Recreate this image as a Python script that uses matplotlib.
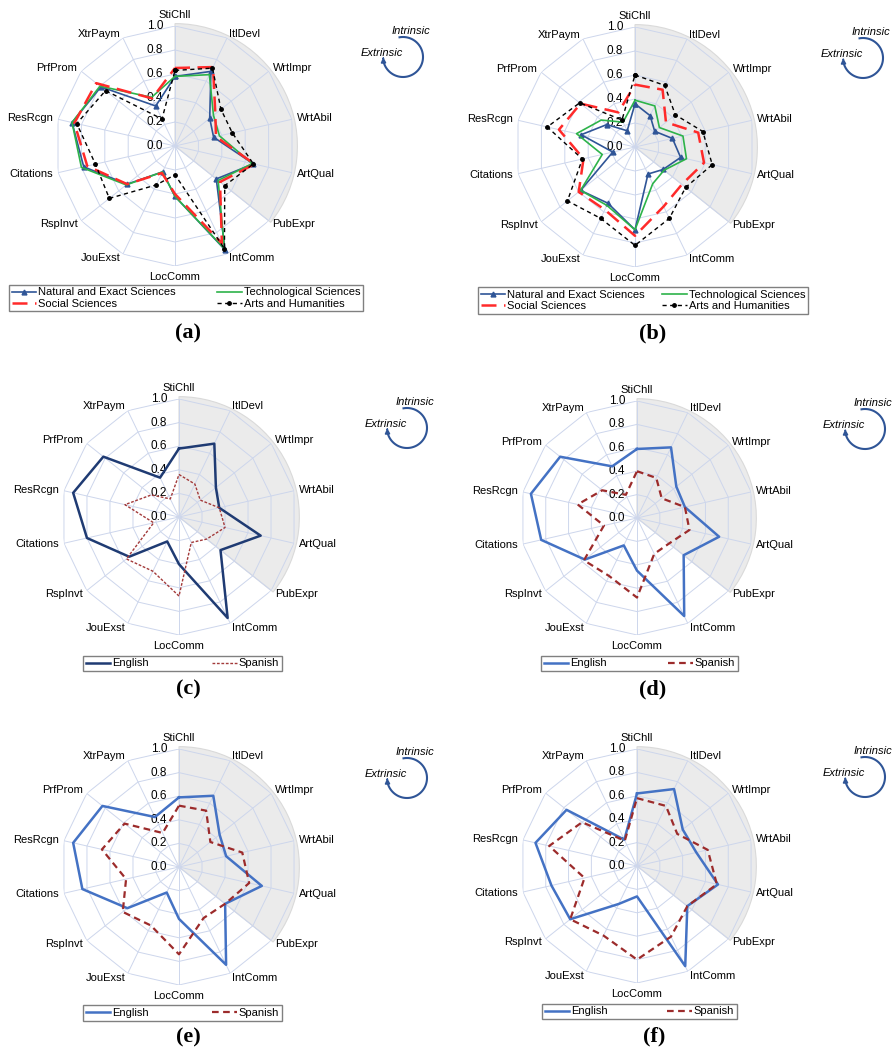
import numpy as np
import matplotlib
matplotlib.use("Agg")
import matplotlib.pyplot as plt

plt.rcParams['font.family'] = ['Liberation Sans', 'DejaVu Sans']

W, H = 893, 1048

AXES = ["StiChll", "ItlDevl", "WrtImpr", "WrtAbil", "ArtQual", "PubExpr", "IntComm",
        "LocComm", "JouExst", "RspInvt", "Citations", "ResRcgn", "PrfProm", "XtrPaym"]
RTICKS = [0.0, 0.2, 0.4, 0.6, 0.8, 1.0]
N_SHADED = 5  # StiChll .. PubExpr = intrinsic sector

FIELDS = ["Natural and Exact Sciences", "Technological Sciences",
          "Social Sciences", "Arts and Humanities"]
LANGS = ["English", "Spanish"]

# panel (a)
A_NAT = [0.58, 0.69, 0.37, 0.33, 0.67, 0.44, 0.96, 0.42, 0.24, 0.51, 0.78, 0.88, 0.79, 0.37]
A_TECH = [0.58, 0.66, 0.41, 0.38, 0.66, 0.46, 0.95, 0.42, 0.24, 0.52, 0.80, 0.88, 0.80, 0.45]
A_SOC = [0.65, 0.73, 0.43, 0.35, 0.68, 0.48, 0.90, 0.40, 0.25, 0.51, 0.75, 0.86, 0.84, 0.44]
A_ARTS = [0.63, 0.72, 0.49, 0.49, 0.67, 0.53, 0.95, 0.24, 0.36, 0.70, 0.68, 0.84, 0.74, 0.25]
# panel (b)
B_NAT = [0.36, 0.29, 0.21, 0.32, 0.39, 0.30, 0.25, 0.69, 0.52, 0.58, 0.19, 0.46, 0.30, 0.15]
B_TECH = [0.39, 0.38, 0.26, 0.41, 0.44, 0.31, 0.34, 0.69, 0.54, 0.58, 0.28, 0.50, 0.36, 0.23]
B_SOC = [0.52, 0.53, 0.33, 0.54, 0.59, 0.50, 0.55, 0.74, 0.58, 0.60, 0.44, 0.65, 0.58, 0.32]
B_ARTS = [0.60, 0.57, 0.43, 0.58, 0.66, 0.54, 0.66, 0.82, 0.66, 0.72, 0.45, 0.75, 0.59, 0.25]
# panels (c)-(f): English vs Spanish
C_EN = [0.58, 0.69, 0.40, 0.35, 0.71, 0.45, 0.95, 0.40, 0.23, 0.54, 0.80, 0.92, 0.82, 0.37]
C_ES = [0.36, 0.31, 0.23, 0.35, 0.40, 0.30, 0.24, 0.67, 0.51, 0.57, 0.22, 0.47, 0.30, 0.17]
D_EN = [0.59, 0.67, 0.43, 0.42, 0.72, 0.51, 0.93, 0.45, 0.26, 0.57, 0.84, 0.93, 0.84, 0.49]
D_ES = [0.40, 0.38, 0.27, 0.42, 0.46, 0.35, 0.34, 0.68, 0.55, 0.58, 0.29, 0.52, 0.38, 0.22]
E_EN = [0.59, 0.67, 0.44, 0.41, 0.72, 0.50, 0.92, 0.44, 0.24, 0.56, 0.84, 0.92, 0.83, 0.47]
E_ES = [0.52, 0.53, 0.34, 0.55, 0.61, 0.50, 0.48, 0.74, 0.55, 0.61, 0.46, 0.67, 0.59, 0.32]
F_EN = [0.62, 0.73, 0.50, 0.52, 0.71, 0.55, 0.95, 0.26, 0.36, 0.73, 0.75, 0.89, 0.77, 0.25]
F_ES = [0.58, 0.57, 0.44, 0.62, 0.70, 0.55, 0.67, 0.80, 0.66, 0.73, 0.46, 0.77, 0.60, 0.24]

GRID = "#cdd6ec"
ST_FIELDS = [
    dict(color="#2f5597", lw=1.2, marker="^", ms=3.5),
    dict(color="#2db34a", lw=1.2),
    dict(color="#ff2a2a", lw=1.8, dashes=(6, 3)),
    dict(color="black", lw=1.0, dashes=(3, 2.5), marker="o", ms=2.5),
]
ST_C = [dict(color="#1f3b73", lw=1.8), dict(color="#a33a3a", lw=1.0, dashes=(2, 1.2))]
ST_LANG = [dict(color="#4472c4", lw=1.8), dict(color="#9c2b2b", lw=1.6, dashes=(3, 2))]

fig = plt.figure(figsize=(W / 100, H / 100), dpi=100)
ov = fig.add_axes([0, 0, 1, 1])
ov.set_xlim(0, W); ov.set_ylim(H, 0); ov.axis("off")

theta = np.arange(len(AXES)) * 2 * np.pi / len(AXES)
closed = np.append(theta, theta[0])


def radar(cx, cy, R, series, names, styles, leg_box, order, tag):
    ax = fig.add_axes([(cx - R) / W, 1 - (cy + R) / H, 2 * R / W, 2 * R / H],
                      projection="polar")
    ax.set_theta_zero_location("N")
    ax.set_theta_direction(-1)
    ax.set_ylim(0, 1)
    ax.axis("off")
    # intrinsic sector
    ax.bar(theta[N_SHADED] / 2, 1.02, width=theta[N_SHADED], bottom=0,
           color="#ebebeb", edgecolor="#dadada", lw=0.8, zorder=0, clip_on=False)
    for r in RTICKS[1:]:
        ax.plot(closed, [r] * len(closed), color=GRID, lw=0.7, zorder=1)
    for t in theta:
        ax.plot([t, t], [0, 1], color=GRID, lw=0.7, zorder=1)
    for v in RTICKS:
        ax.annotate(f"{v:.1f}", xy=(0, v), xytext=(-8.5, 0), textcoords="offset points",
                    ha="right", va="center", fontsize=8.5, annotation_clip=False)
    for t, name in zip(theta, AXES):
        s, c = np.sin(t), np.cos(t)
        if abs(s) < 0.1:
            ax.annotate(name, xy=(t, 1), xytext=(0, 4.5 * np.sign(c)),
                        textcoords="offset points", ha="center",
                        va="bottom" if c > 0 else "top", fontsize=8, annotation_clip=False)
        else:
            ax.annotate(name, xy=(t, 1), xytext=(3.5 * s, 3.5 * c),
                        textcoords="offset points", ha="left" if s > 0 else "right",
                        va="center", fontsize=8, annotation_clip=False)
    handles = []
    for vals, st in zip(series, styles):
        h, = ax.plot(closed, np.append(vals, vals[0]), zorder=3, clip_on=False, **st)
        handles.append(h)
    x0, y0, x1, y1 = leg_box
    fig.legend([handles[i] for i in order], [names[i] for i in order], loc="center",
               bbox_to_anchor=(x0 / W, 1 - y1 / H, (x1 - x0) / W, (y1 - y0) / H),
               mode="expand", ncol=2, fontsize=8, frameon=True, fancybox=False,
               edgecolor="#808080", framealpha=1, borderpad=0.25, labelspacing=0.1,
               handlelength=2.2, handletextpad=0.2, borderaxespad=0, columnspacing=1.0)
    # intrinsic / extrinsic direction sign
    ax0, ay0, rr = cx + 228, cy - 89, 20
    phi = np.radians(np.linspace(100, -168, 80))
    ov.plot(ax0 + rr * np.cos(phi), ay0 - rr * np.sin(phi), color="#2f5597", lw=1.5)
    pe = np.radians(-171)
    ov.annotate("", xy=(ax0 + rr * np.cos(pe), ay0 - rr * np.sin(pe) - 3),
                xytext=(ax0 + rr * np.cos(phi[-1]), ay0 - rr * np.sin(phi[-1])),
                arrowprops=dict(arrowstyle="-|>", color="#2f5597", lw=1.2, mutation_scale=7))
    ov.text(ax0 + 8, ay0 - 26, "Intrinsic", style="italic", fontsize=8,
            ha="center", va="center")
    ov.text(ax0 - 21, ay0 - 4, "Extrinsic", style="italic", fontsize=8,
            ha="center", va="center")
    ov.text(tag[1], tag[2], tag[0], fontsize=16, fontweight="bold",
            family="Liberation Serif", ha="center", va="center")


radar(175, 146, 120, [A_NAT, A_TECH, A_SOC, A_ARTS], FIELDS, ST_FIELDS,
      (9, 284, 363, 312), [0, 2, 1, 3], ("(a)", 188, 333))
radar(635, 147, 120, [B_NAT, B_TECH, B_SOC, B_ARTS], FIELDS, ST_FIELDS,
      (478, 288, 808, 313), [0, 2, 1, 3], ("(b)", 653, 333))
radar(179, 517, 118, [C_EN, C_ES], LANGS, ST_C,
      (83, 655, 282, 672), [0, 1], ("(c)", 188, 689))
radar(637, 518, 117, [D_EN, D_ES], LANGS, ST_LANG,
      (541, 655, 738, 672), [0, 1], ("(d)", 653, 689))
radar(179, 867, 118, [E_EN, E_ES], LANGS, ST_LANG,
      (83, 1005, 282, 1021), [0, 1], ("(e)", 188, 1037))
radar(637, 866, 117, [F_EN, F_ES], LANGS, ST_LANG,
      (542, 1003, 737, 1020), [0, 1], ("(f)", 654, 1036))

fig.savefig("out.png", dpi=100)
